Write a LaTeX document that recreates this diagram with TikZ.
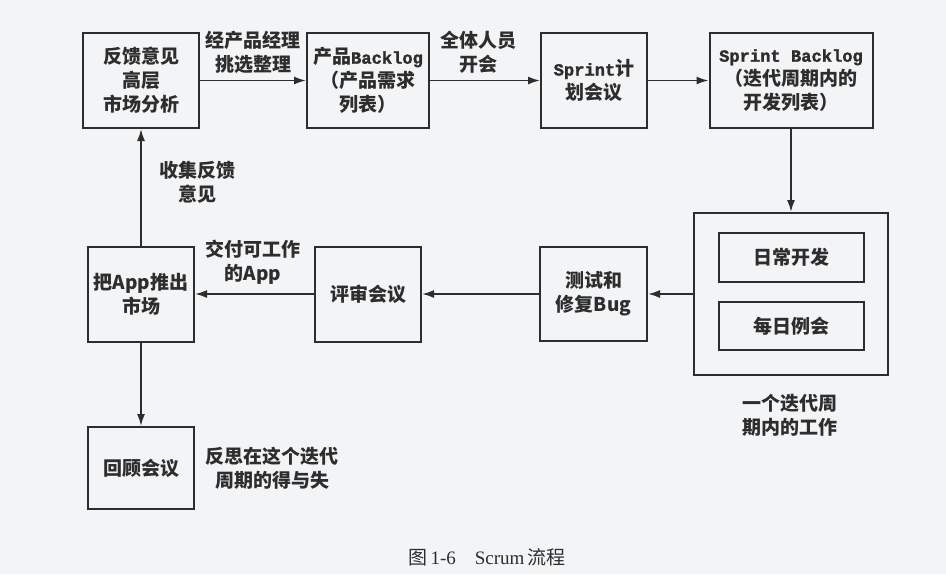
\documentclass[tikz,border=0pt]{standalone}
\usepackage{fontspec}
\setmainfont{Noto Sans CJK SC}
\newfontfamily\monofont{Liberation Mono}[Scale=0.9, BoldFont={Liberation Mono Bold}, BoldFeatures={FakeBold=1.5}]
\newfontfamily\capfont{Liberation Serif}
\usetikzlibrary{arrows.meta}
\definecolor{page}{RGB}{243,244,246}
\definecolor{ink}{RGB}{45,45,45}

\begin{document}
\begin{tikzpicture}[x=1pt,y=-1pt]
    \tikzset{box/.style={draw = ink, line width = 2pt,
                align = center, text = ink, inner sep = 0pt,
                font = \fontsize{19}{24}\selectfont\bfseries},
             note/.style={align = center, text = ink,
                font = \fontsize{19}{24}\selectfont\bfseries},
             flow/.style={draw = ink, line width = 1.8pt,
                -{Latex[length=12pt,width=8pt]}}}
    \fill[page] (0,0) rectangle (946,574);
    \useasboundingbox (0,0) rectangle (946,574);
    % top row
    \node[box, minimum width=116pt, minimum height=95pt] (fk) at (141,80.5) {反馈意见\\高层\\市场分析};
    \node[box, minimum width=122pt, minimum height=95pt] (pb) at (368,80.5) {产品{\monofont\bfseries Backlog}\\（产品需求\\列表）};
    \node[box, minimum width=106pt, minimum height=95pt] (sp) at (594,80.5) {{\monofont\bfseries Sprint}计\\划会议};
    \node[box, minimum width=163pt, minimum height=95pt] (sb) at (791,80.5) {{\monofont\bfseries Sprint Backlog}\\（迭代周期内的\\开发列表）};
    % iteration
    \node[box, minimum width=194pt, minimum height=162pt] (loop) at (791,294) {};
    \node[box, minimum width=145pt, minimum height=49pt] (dev) at (791,257.5) {日常开发};
    \node[box, minimum width=145pt, minimum height=48pt] (daily) at (791,326) {每日例会};
    % bottom row
    \node[box, minimum width=107pt, minimum height=94pt] (test) at (593.5,294) {测试和\\修复Bug};
    \node[box, minimum width=106pt, minimum height=95pt] (review) at (368,294) {评审会议};
    \node[box, minimum width=106pt, minimum height=95pt] (launch) at (141,294) {把App推出\\市场};
    \node[box, minimum width=106pt, minimum height=82pt] (retro) at (141,468) {回顾会议};
    % labels
    \node[note] (pick) at (253,52) {经产品经理\\挑选整理};
    \node[note] (meet) at (478,52) {全体人员\\开会};
    \node[note] (collect) at (197,182) {收集反馈\\意见};
    \node[note] (deliver) at (253,262) {交付可工作\\的App};
    \node[note] (cycle) at (790,415) {一个迭代周\\期内的工作};
    \node[note, anchor=west] (reflect) at (202,468) {反思在这个迭代\\周期的得与失};
    \node[text=ink, font=\fontsize{19}{22}\selectfont] (cap) at (487,557)
        {图\,{\capfont 1-6}\hspace{1em}{\capfont Scrum}\,流程};
    % arrows
    \draw[flow] (fk) -- (pb);
    \draw[flow] (pb) -- (sp);
    \draw[flow] (sp) -- (sb);
    \draw[flow] (sb) -- (loop);
    \draw[flow] (loop) -- (test);
    \draw[flow] (test) -- (review);
    \draw[flow] (review) -- (launch);
    \draw[flow] (launch) -- (fk);
    \draw[flow] (launch) -- (retro);
\end{tikzpicture}
\end{document}
